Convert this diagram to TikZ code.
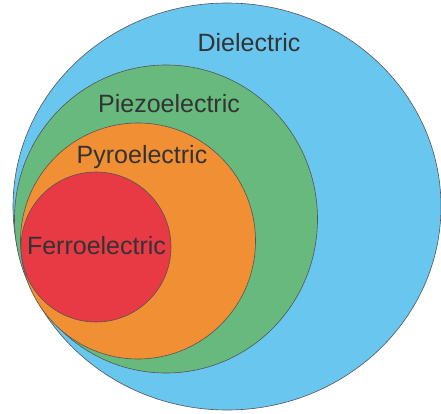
\documentclass[tikz,border=0pt]{standalone}
\usepackage{fontspec}
\setmainfont{Liberation Sans}
\definecolor{cblue}{HTML}{69C6EF}
\definecolor{cgreen}{HTML}{68B97D}
\definecolor{corange}{HTML}{F18F35}
\definecolor{cred}{HTML}{E73A44}
\definecolor{ctext}{HTML}{333333}
\definecolor{cline}{HTML}{555555}
\begin{document}
\begin{tikzpicture}[x=1pt,y=-1pt,
  setshape/.style={draw=cline,line width=0.6pt},
  lbl/.style={text=ctext,font=\fontsize{25}{30}\selectfont,inner sep=0pt,anchor=center}]
\useasboundingbox (0,0) rectangle (441,414);
\fill[white] (0,0) rectangle (441,414);
\draw[setshape,fill=cblue] (227,206.5) ellipse [x radius=214, y radius=203.5];
\draw[setshape,fill=cgreen] (166,219) ellipse [x radius=151.5, y radius=154];
\draw[setshape,fill=corange] (138,241) ellipse [x radius=117.5, y radius=118];
\draw[setshape,fill=cred] (96,247) circle [radius=75];
\node[lbl] (diel) at (249,43) {Dielectric};
\node[lbl] (piezo) at (169,104) {Piezoelectric};
\node[lbl] (pyro) at (142,157) {Pyroelectric};
\node[lbl] (ferro) at (96.5,246) {Ferroelectric};
\end{tikzpicture}
\end{document}
